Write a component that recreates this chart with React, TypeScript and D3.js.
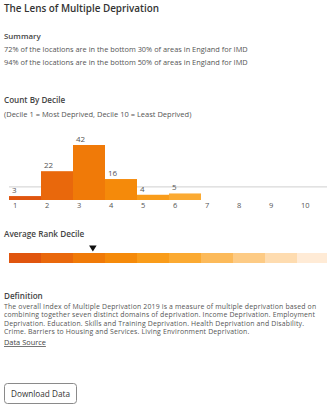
import React from "react";
import * as d3 from "d3";

const deciles = [1, 2, 3, 4, 5, 6, 7, 8, 9, 10];
const counts = [3, 22, 42, 16, 4, 5, 0, 0, 0, 0];
const decileColors = [
  "#E0550E", "#E9680C", "#F07A08", "#F58A0A", "#F99C1A",
  "#FBAA32", "#FCBA5A", "#FDCB85", "#FEDCB0", "#FFEBD6",
];
const averageDecile = 3.12;
const gridValue = 10;

const summaryLines = [
  "72% of the locations are in the bottom 30% of areas in England for IMD",
  "94% of the locations are in the bottom 50% of areas in England for IMD",
];
const definitionLines = [
  "The overall Index of Multiple Deprivation 2019 is a measure of multiple deprivation based on",
  "combining together seven distinct domains of deprivation. Income Deprivation. Employment",
  "Deprivation. Education. Skills and Training Deprivation. Health Deprivation and Disability.",
  "Crime. Barriers to Housing and Services. Living Environment Deprivation.",
];

const W = 327;
const H = 405;
const FONT = "'Open Sans', 'Noto Sans', sans-serif";

export default function App() {
  const x = d3
    .scaleBand<number>()
    .domain(deciles)
    .range([9, 329])
    .paddingInner(0)
    .paddingOuter(0);
  const y = d3.scaleLinear().domain([0, 42]).range([200, 145]);
  const xAvg = d3
    .scaleLinear()
    .domain([1, 10])
    .range([x(1)! + x.bandwidth() / 2, x(10)! + x.bandwidth() / 2]);
  const ax = xAvg(averageDecile);
  const tri = d3.path();
  tri.moveTo(ax - 3.8, 245.5);
  tri.lineTo(ax + 3.8, 245.5);
  tri.lineTo(ax, 251.5);
  tri.closePath();

  return (
    <svg
      width={W}
      height={H}
      style={{ position: "absolute", left: 0, top: 0, background: "#fff" }}
      fontFamily={FONT}
    >
      <text x={4} y={12} fontSize={9.9} fontWeight={600} fill="#333">
        The Lens of Multiple Deprivation
      </text>
      <text x={4} y={38.5} fontSize={7.9} fontWeight={600} fill="#444">
        Summary
      </text>
      {summaryLines.map((s, i) => (
        <text key={i} x={4} y={51.5 + i * 13} fontSize={7.4} fill="#555">
          {s}
        </text>
      ))}
      <text x={4} y={102.5} fontSize={8.1} fontWeight={600} fill="#444">
        Count By Decile
      </text>
      <text x={4} y={117} fontSize={7.5} fill="#555">
        (Decile 1 = Most Deprived, Decile 10 = Least Deprived)
      </text>

      <line x1={9} x2={327} y1={y(gridValue)} y2={y(gridValue)} stroke="#cfcfcf" strokeWidth={1} />
      {deciles.map((d, i) =>
        counts[i] > 0 ? (
          <rect
            key={d}
            x={x(d)}
            y={y(counts[i])}
            width={x.bandwidth()}
            height={y(0) - y(counts[i])}
            fill={decileColors[i]}
          />
        ) : null
      )}
      {deciles.map((d, i) =>
        counts[i] > 0 ? (
          <text key={"v" + d} x={x(d)! + 3} y={y(counts[i]) - 3} fontSize={8} fill="#555">
            {counts[i]}
          </text>
        ) : null
      )}
      {deciles.map((d) => (
        <text key={"t" + d} x={x(d)! + 4} y={207.5} fontSize={7.5} fill="#555">
          {d}
        </text>
      ))}

      <text x={4} y={237} fontSize={8.2} fontWeight={600} fill="#444">
        Average Rank Decile
      </text>
      {deciles.map((d, i) => (
        <rect key={"b" + d} x={x(d)} y={253} width={x.bandwidth()} height={10} fill={decileColors[i]} />
      ))}
      <path d={tri.toString()} fill="#111" />

      <text x={4} y={299} fontSize={8.1} fontWeight={600} fill="#444">
        Definition
      </text>
      {definitionLines.map((s, i) => (
        <text key={i} x={4} y={308.8 + i * 8.4} fontSize={6.9} letterSpacing={0.17} fill="#555">
          {s}
        </text>
      ))}
      <text x={4} y={345} fontSize={7.4} fill="#444" textDecoration="underline">
        Data Source
      </text>
      <rect x={4.5} y={383.5} width={72} height={20} rx={3} fill="#fff" stroke="#8a8a8a" strokeWidth={1} />
      <text x={40.5} y={396.5} fontSize={8.2} fill="#333" textAnchor="middle">
        Download Data
      </text>
    </svg>
  );
}
